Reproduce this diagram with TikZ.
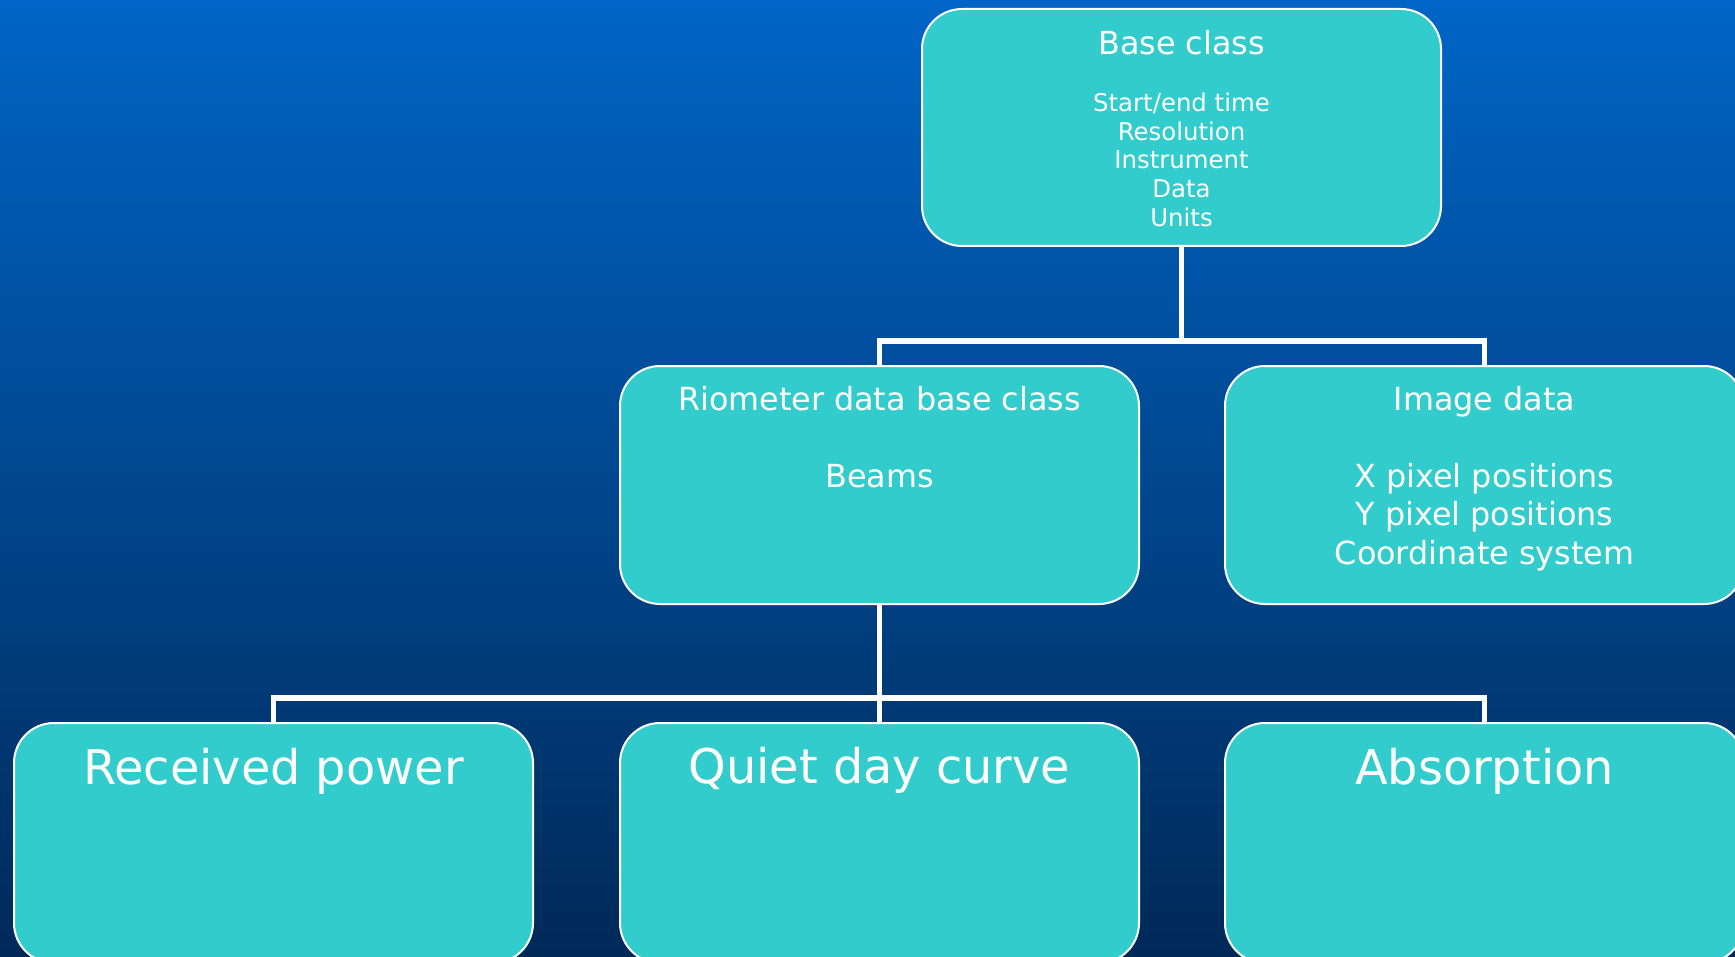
\documentclass[tikz,border=0pt]{standalone}
\usepackage{fontspec}
\setmainfont{DejaVu Sans}
\usetikzlibrary{calc}
\definecolor{bgtop}{RGB}{0,101,198}
\definecolor{bgmid}{RGB}{0,78,155}
\definecolor{bgbot}{RGB}{0,41,88}
\definecolor{boxfill}{RGB}{51,204,204}
\newcommand{\bigtxt}{\fontsize{23.9}{28}\selectfont}
\newcommand{\midtxt}{\fontsize{15.9}{19}\selectfont}
\newcommand{\smalltxt}{\fontsize{12.2}{14}\selectfont}
\tikzset{
  classbox/.style={draw=white, line width=1pt, fill=boxfill, rounded corners=20pt,
    minimum width=259.5pt, inner sep=0pt, outer sep=0pt},
  conn/.style={draw=white, line width=2.75pt, line join=miter},
  lbl/.style={text=white, anchor=base, inner sep=0pt, outer sep=0pt}
}
\begin{document}
\begin{tikzpicture}[x=0.5pt, y=-0.5pt]
\useasboundingbox (0,0) rectangle (1735,957);
\shade[top color=bgtop, middle color=bgmid, bottom color=bgbot] (0,0) rectangle (1735,957);

% connectors (drawn first, boxes on top)
\coordinate (topS) at (1181.5,246);
\coordinate (rioN) at (879.5,366);
\coordinate (imgN) at (1484.5,366);
\coordinate (rioS) at (879.5,604);
\coordinate (recN) at (273.5,723);
\coordinate (quiN) at (879.5,723);
\coordinate (absN) at (1484.5,723);
\draw[conn] (topS) -- ++(0,95) -| (rioN);
\draw[conn] (topS) -- ++(0,95) -| (imgN);
\draw[conn] (rioS) -- ++(0,94) -| (recN);
\draw[conn] (rioS) -- (quiN);
\draw[conn] (rioS) -- ++(0,94) -| (absN);

% boxes
\node[classbox, minimum height=118.5pt] (top) at (1181.5,127.5) {};
\node[classbox, minimum height=119pt] (rio) at (879.5,485) {};
\node[classbox, minimum height=119pt] (img) at (1484.5,485) {};
\node[classbox, minimum height=120pt] (rec) at (273.5,843) {};
\node[classbox, minimum height=120pt] (qui) at (879.5,843) {};
\node[classbox, minimum height=120pt] (abs) at (1484.5,843) {};

% texts
\node[lbl, font=\midtxt] (t0) at (1181.5,55) {Base class};
\node[lbl, font=\smalltxt] (t1) at (1181.5,112) {Start/end time};
\node[lbl, font=\smalltxt] (t2) at (1181.5,140.5) {Resolution};
\node[lbl, font=\smalltxt] (t3) at (1181.5,169) {Instrument};
\node[lbl, font=\smalltxt] (t4) at (1181.5,198) {Data};
\node[lbl, font=\smalltxt] (t5) at (1181.5,227) {Units};

\node[lbl, font=\midtxt] (r0) at (879.5,410.5) {Riometer data base class};
\node[lbl, font=\midtxt] (r1) at (879.5,487) {Beams};

\node[lbl, font=\midtxt] (i0) at (1484.5,410.5) {Image data};
\node[lbl, font=\midtxt] (i1) at (1484.5,487) {X pixel positions};
\node[lbl, font=\midtxt] (i2) at (1484.5,525.5) {Y pixel positions};
\node[lbl, font=\midtxt] (i3) at (1484.5,564) {Coordinate system};

\node[lbl, font=\bigtxt] (b0) at (273.5,784) {Received power};
\node[lbl, font=\bigtxt] (b1) at (879.5,783) {Quiet day curve};
\node[lbl, font=\bigtxt] (b2) at (1484.5,784) {Absorption};
\end{tikzpicture}
\end{document}
